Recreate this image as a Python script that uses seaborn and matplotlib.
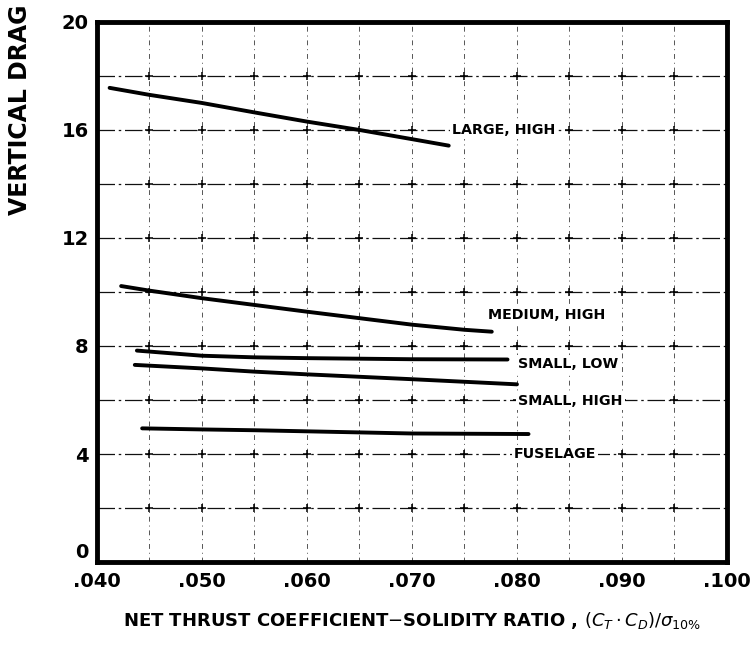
import numpy as np
import pandas as pd
import matplotlib
matplotlib.use("Agg")
import matplotlib.pyplot as plt
import seaborn as sns

# Curves: vertical drag vs. net thrust coefficient-solidity ratio
large_high_x = [0.0412, 0.045, 0.050, 0.055, 0.060, 0.065, 0.070, 0.0735]
large_high_y = [17.56, 17.30, 17.00, 16.65, 16.31, 16.00, 15.66, 15.42]

medium_high_x = [0.0423, 0.045, 0.050, 0.055, 0.060, 0.065, 0.070, 0.075, 0.0776]
medium_high_y = [10.22, 10.05, 9.77, 9.52, 9.27, 9.03, 8.79, 8.60, 8.53]

small_low_x = [0.0438, 0.050, 0.055, 0.060, 0.065, 0.070, 0.0791]
small_low_y = [7.83, 7.64, 7.58, 7.55, 7.53, 7.51, 7.50]

small_high_x = [0.0436, 0.050, 0.055, 0.060, 0.065, 0.070, 0.0800]
small_high_y = [7.30, 7.17, 7.05, 6.95, 6.86, 6.77, 6.58]

fuselage_x = [0.0443, 0.050, 0.055, 0.060, 0.065, 0.070, 0.0811]
fuselage_y = [4.95, 4.91, 4.88, 4.84, 4.80, 4.76, 4.74]

series_names = ["LARGE, HIGH", "MEDIUM, HIGH", "SMALL, LOW", "SMALL, HIGH", "FUSELAGE"]
series_x = [large_high_x, medium_high_x, small_low_x, small_high_x, fuselage_x]
series_y = [large_high_y, medium_high_y, small_low_y, small_high_y, fuselage_y]

# Label anchor (left edge, vertical centre) for each curve name
label_x = [0.0738, 0.0772, 0.0801, 0.0801, 0.0797]
label_y = [16.0, 9.15, 7.33, 5.95, 4.0]

x_ticks = [0.040, 0.050, 0.060, 0.070, 0.080, 0.090, 0.100]
x_tick_labels = [".040", ".050", ".060", ".070", ".080", ".090", ".100"]
y_ticks = [0, 4, 8, 12, 16, 20]

frames = []
for name, xs, ys in zip(series_names, series_x, series_y):
    frames.append(pd.DataFrame({"ratio": xs, "drag": ys, "config": name}))
df = pd.concat(frames, ignore_index=True)

sns.set_style("white")
plt.rcParams["font.family"] = ["DejaVu Sans"]

fig = plt.figure(figsize=(7.56, 6.46), dpi=100)
ax = fig.add_axes([0.1283, 0.130, 0.8333, 0.836])

ax.set_xlim(0.040, 0.100)
ax.set_ylim(0, 20)

# Broken grid lines with small crosses at the intersections
grid_x = np.arange(0.045, 0.0999, 0.005)
grid_y = np.arange(2, 19.9, 2)
for gx in grid_x:
    ax.axvline(gx, color="#555555", lw=0.7, ls=(0, (5, 4, 1, 4)), zorder=1)
for gy in grid_y:
    ax.axhline(gy, color="#111111", lw=0.9, ls=(0, (14, 3, 2, 3)), zorder=1)
gxx, gyy = np.meshgrid(grid_x, grid_y)
ax.scatter(gxx.ravel(), gyy.ravel(), marker="+", s=28, color="black",
           linewidths=1.1, zorder=2)

sns.lineplot(data=df, x="ratio", y="drag", units="config", estimator=None,
             color="black", linewidth=2.8, sort=False, ax=ax, zorder=3,
             legend=False)

for name, lx, ly in zip(series_names, label_x, label_y):
    ax.text(lx, ly, name, ha="left", va="center", fontsize=10.3,
            fontweight="bold", color="black", zorder=4,
            bbox=dict(boxstyle="square,pad=0.15", fc="white", ec="none"))

ax.set_xticks(x_ticks)
ax.set_xticklabels(x_tick_labels)
ax.set_yticks(y_ticks)
ax.tick_params(axis="both", length=0, labelsize=14, pad=6,
               labelcolor="black")
ax.tick_params(axis="x", pad=7)
for lab in ax.get_xticklabels() + ax.get_yticklabels():
    lab.set_fontweight("bold")
# the zero on the value axis sits just above the corner label
ax.get_yticklabels()[0].set_va("bottom")

for side in ["left", "right", "top", "bottom"]:
    ax.spines[side].set_visible(True)
    ax.spines[side].set_color("black")
    ax.spines[side].set_linewidth(3.5)

ax.set_xlabel(r"NET THRUST COEFFICIENT$-$SOLIDITY RATIO , $(C_T \cdot C_D)/\sigma_{10\%}$",
              fontsize=13, fontweight="bold", color="black", labelpad=14)
ax.set_ylabel("")

fig.text(0.027, 1 - 215 / 646, "VERTICAL DRAG", rotation=90,
         ha="center", va="bottom", fontsize=17, fontweight="bold",
         color="black")

fig.savefig("out.png", dpi=100, facecolor="white")
